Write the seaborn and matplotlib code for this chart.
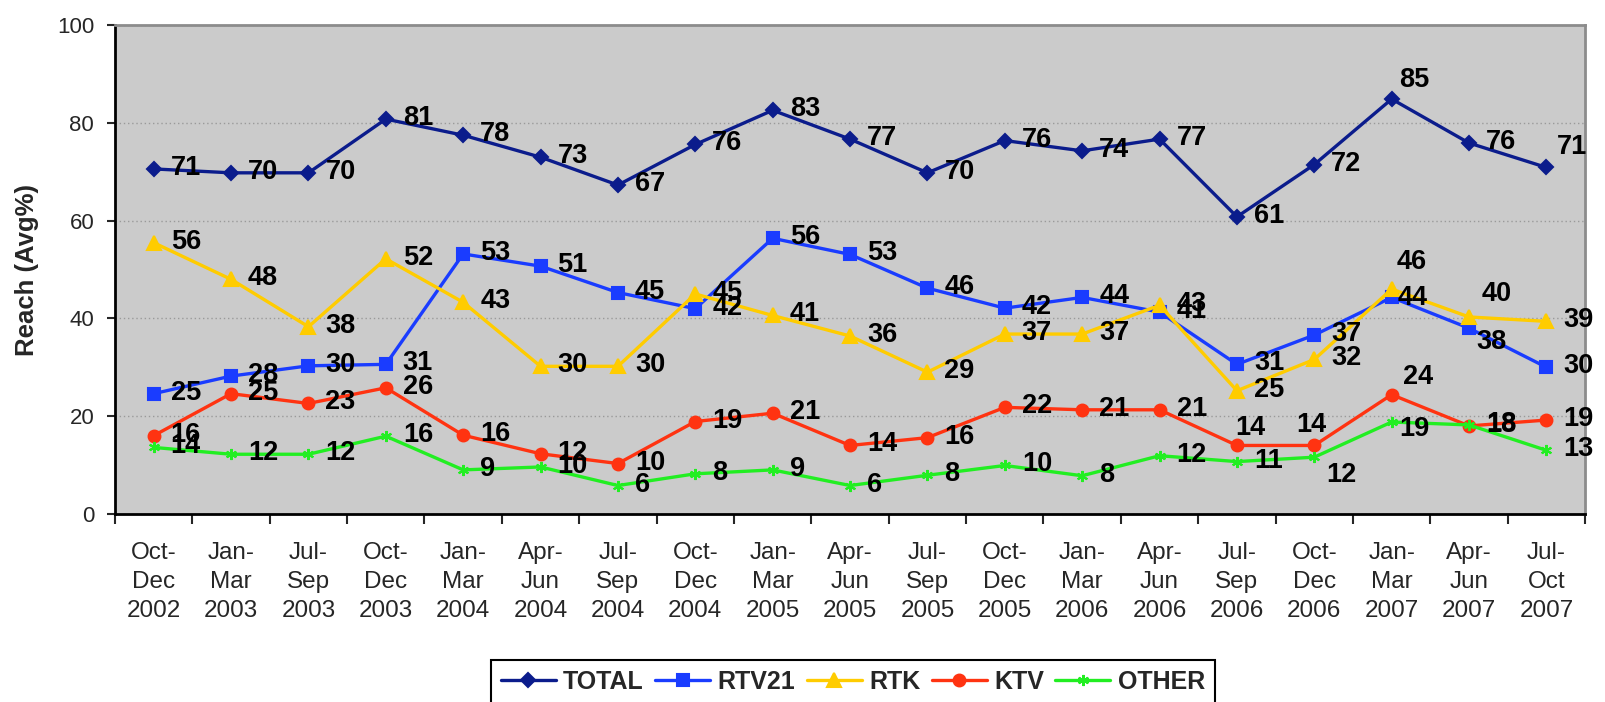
import numpy as np
import pandas as pd
import matplotlib
matplotlib.use("Agg")
import matplotlib.pyplot as plt
import seaborn as sns

# quarters on the x axis
periods = ["Oct-\nDec\n2002", "Jan-\nMar\n2003", "Jul-\nSep\n2003", "Oct-\nDec\n2003",
           "Jan-\nMar\n2004", "Apr-\nJun\n2004", "Jul-\nSep\n2004", "Oct-\nDec\n2004",
           "Jan-\nMar\n2005", "Apr-\nJun\n2005", "Jul-\nSep\n2005", "Oct-\nDec\n2005",
           "Jan-\nMar\n2006", "Apr-\nJun\n2006", "Jul-\nSep\n2006", "Oct-\nDec\n2006",
           "Jan-\nMar\n2007", "Apr-\nJun\n2007", "Jul-\nOct\n2007"]

total = [70.6, 69.8, 69.8, 80.8, 77.5, 73.0, 67.3, 75.6, 82.6, 76.7,
         69.8, 76.4, 74.3, 76.7, 60.8, 71.5, 84.9, 75.9, 70.9]
rtv21 = [24.6, 28.2, 30.3, 30.6, 53.2, 50.7, 45.3, 42.0, 56.4, 53.1,
         46.2, 42.1, 44.3, 41.3, 30.6, 36.6, 44.3, 38.0, 30.0]
rtk = [55.5, 48.0, 38.3, 52.2, 43.3, 30.2, 30.2, 45.0, 40.6, 36.4,
       29.0, 36.8, 36.8, 42.7, 25.2, 31.6, 46.0, 40.3, 39.4]
ktv = [16.0, 24.6, 22.6, 25.8, 16.1, 12.3, 10.3, 18.9, 20.6, 14.0,
       15.6, 21.8, 21.3, 21.3, 14.0, 14.0, 24.4, 18.0, 19.2]
other = [13.6, 12.2, 12.2, 15.9, 9.0, 9.6, 5.8, 8.2, 9.0, 5.8,
         7.9, 9.9, 7.8, 11.9, 10.7, 11.6, 18.8, 18.2, 13.0]

series = {"TOTAL": total, "RTV21": rtv21, "RTK": rtk, "KTV": ktv, "OTHER": other}

styles = {
    "TOTAL": dict(color="#0B1C8C", marker="D", markersize=7.5),
    "RTV21": dict(color="#1A3CFF", marker="s", markersize=8),
    "RTK": dict(color="#FFCC00", marker="^", markersize=10),
    "KTV": dict(color="#FF3311", marker="o", markersize=8.5),
    "OTHER": dict(color="#22EE22", marker=(6, 2, 0), markersize=8),
}

# data labels that were moved away from the default "right of point" place (pixels)
label_moves = {
    ("TOTAL", 16): (7, 19), ("TOTAL", 18): (10, 20),
    ("RTV21", 16): (6, -1), ("RTV21", 17): (7, -14),
    ("RTK", 16): (5, 27), ("RTK", 17): (13, 23),
    ("KTV", 14): (-2, 17), ("KTV", 15): (-18, 20), ("KTV", 16): (11, 18),
    ("OTHER", 15): (12, -18), ("OTHER", 16): (8, -7),
}

sns.set_style("white")
plt.rcParams['font.family'] = ['Liberation Sans', 'DejaVu Sans']

fig = plt.figure(figsize=(16.06, 7.02), dpi=100)
ax = fig.add_axes([0.0716, 0.268, 0.9154, 0.696])
ax.set_facecolor("#CBCBCB")

pos = np.arange(len(periods))
for name, vals in series.items():
    df = pd.DataFrame({"pos": pos, "reach": vals})
    st = styles[name]
    sns.lineplot(data=df, x="pos", y="reach", ax=ax, label=name, lw=2.4,
                 color=st["color"], marker=st["marker"], markersize=st["markersize"],
                 markeredgecolor=st["color"], markeredgewidth=1.5)

# data labels
for name, vals in series.items():
    for i, v in enumerate(vals):
        dx, dy = label_moves.get((name, i), (17, 1))
        ax.annotate(f"{v:.0f}", (i, v), xytext=(dx, dy), textcoords="offset pixels",
                    ha="left", va="center", fontsize=19.5, fontweight="bold",
                    color="black", annotation_clip=False)

ax.set_xlim(-0.5, len(periods) - 0.5)
ax.set_ylim(0, 100)
ax.set_yticks(np.arange(0, 101, 20))
ax.yaxis.grid(True, linestyle=(0, (1, 2)), color="#9A9A9A", lw=1)
ax.xaxis.grid(False)
ax.set_axisbelow(True)

# tick marks between categories, labels under the categories
ax.set_xticks(np.arange(-0.5, len(periods), 1))
ax.set_xticklabels([])
ax.set_xticks(pos, minor=True)
ax.set_xticklabels(periods, minor=True)
ax.tick_params(axis="x", which="major", bottom=True, length=7, width=1.5, direction="out")
ax.tick_params(axis="x", which="minor", bottom=True, length=0, pad=20, labelsize=17.5)
ax.tick_params(axis="y", left=True, length=6, width=1.5, direction="out", pad=9, labelsize=16)
for t in ax.get_xticklabels(minor=True):
    t.set_linespacing(1.43)

ax.set_xlabel("")
ax.set_ylabel("Reach (Avg%)", fontsize=18.5, fontweight="bold", labelpad=13)

for side in ["left", "bottom"]:
    ax.spines[side].set_color("black")
    ax.spines[side].set_linewidth(2)
for side in ["top", "right"]:
    ax.spines[side].set_color("#8C8C8C")
    ax.spines[side].set_linewidth(2)

handles, labels = ax.get_legend_handles_labels()
ax.get_legend().remove()
leg = fig.legend(handles, labels, loc="upper center", bbox_to_anchor=(0.531, 0.06), ncol=5,
                 frameon=True, fancybox=False, edgecolor="black", framealpha=1,
                 prop=dict(weight="bold", size=18), handlelength=2.2, columnspacing=0.45,
                 handletextpad=0.3, borderpad=0.4, borderaxespad=0)
leg.get_frame().set_linewidth(1.5)

fig.savefig("out.png", dpi=100)
